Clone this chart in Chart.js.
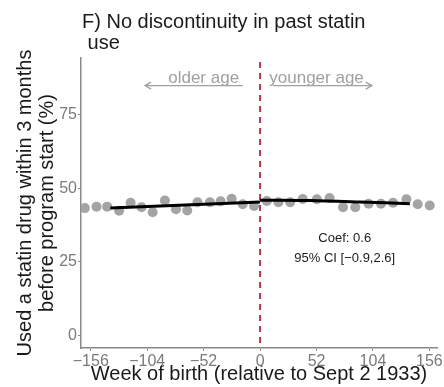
<!DOCTYPE html>
<html><head><meta charset="utf-8">
<script src="https://cdn.jsdelivr.net/npm/chart.js@4.4.1/dist/chart.umd.min.js"></script>
<style>html,body{margin:0;padding:0;background:#fff}</style>
</head><body>
<canvas id="c" width="444" height="387" style="display:block;width:444px;height:387px"></canvas>
<script>
// ---- data ----
const weeks = [-161.5,-150.7,-140.9,-129.9,-119.3,-109.2,-99.0,-87.7,-77.5,-67.1,-57.7,-46.2,-36.4,-26.2,-16.0,-5.5,
               6.2,16.9,27.7,39.3,52.3,64.0,76.4,87.7,100.0,111.4,122.5,134.8,145.2,156.3];
const shares = [43.3,43.8,43.8,42.4,45.1,43.6,41.9,45.9,42.9,42.5,45.3,45.3,45.6,46.5,44.6,44.0,
                45.7,45.3,45.3,46.4,46.3,46.7,43.6,43.6,44.8,44.8,45.1,46.3,44.6,44.2];
const fitLeftWeeks = [-138, 0];
const fitLeftShares = [43.3, 45.4];
const fitRightWeeks = [0, 46, 92, 138];
const fitRightShares = [46.0, 45.9, 45.4, 44.8];
const xTickValues = [-156, -104, -52, 0, 52, 104, 156];
const yTickValues = [0, 25, 50, 75];
const titleLines = ["F) No discontinuity in past statin", " use"];
const yTitleLines = ["Used a statin drug within 3 months", "before program start (%)"];
const xTitleText = "Week of birth (relative to Sept 2 1933)";
const coefText = "Coef: 0.6";
const ciText = "95% CI [\u22120.9,2.6]";
const olderLabel = "older age";
const youngerLabel = "younger age";

const FONT = "'Liberation Sans', Arial, Helvetica, sans-serif";
const fmt = v => (v < 0 ? "\u2212" + Math.abs(v) : String(v));

const annotations = {
  id: 'annotations',
  beforeDatasetsDraw(chart) {
    const {ctx, chartArea: a, scales: {x}} = chart;
    const px = x.getPixelForValue(0);
    ctx.save();
    ctx.strokeStyle = '#b23a48';
    ctx.lineWidth = 2;
    ctx.setLineDash([6, 5]);
    ctx.beginPath();
    ctx.moveTo(px, a.top + 4);
    ctx.lineTo(px, a.bottom);
    ctx.stroke();
    ctx.restore();
  },
  afterDraw(chart) {
    const {ctx, scales: {x, y}} = chart;
    ctx.save();
    // title
    ctx.fillStyle = '#1a1a1a';
    ctx.font = "20px " + FONT;
    ctx.textAlign = 'left';
    ctx.textBaseline = 'alphabetic';
    ctx.fillText(titleLines[0], 82, 28);
    ctx.fillText(titleLines[1], 82, 49);

    // arrows with labels
    const gray = '#a0a0a0';
    ctx.strokeStyle = gray;
    ctx.fillStyle = gray;
    ctx.lineWidth = 1.3;
    ctx.font = "17px " + FONT;
    ctx.textAlign = 'center';
    const ay = y.getPixelForValue(85);
    const ty = y.getPixelForValue(86);
    const arrow = (x0, x1, dir) => {
      const p0 = x.getPixelForValue(x0), p1 = x.getPixelForValue(x1);
      ctx.beginPath(); ctx.moveTo(p0, ay); ctx.lineTo(p1, ay); ctx.stroke();
      const tip = dir < 0 ? p0 : p1;
      ctx.beginPath();
      ctx.moveTo(tip - dir * 6, ay - 3.5); ctx.lineTo(tip, ay); ctx.lineTo(tip - dir * 6, ay + 3.5);
      ctx.stroke();
    };
    arrow(-106, -16, -1);
    arrow(12, 103, 1);
    ctx.fillText(olderLabel, x.getPixelForValue(-52), ty);
    ctx.fillText(youngerLabel, x.getPixelForValue(52), ty);

    // coefficient annotation
    ctx.fillStyle = '#1a1a1a';
    ctx.font = "13px " + FONT;
    ctx.fillText(coefText, x.getPixelForValue(78), y.getPixelForValue(31.7));
    ctx.fillText(ciText, x.getPixelForValue(78), y.getPixelForValue(24.9));
    ctx.restore();
  }
};

const axisColor = '#8a8a8a';
const tickColor = '#7a7a7a';

new Chart(document.getElementById('c'), {
  type: 'scatter',
  data: {
    datasets: [
      { type: 'line', data: fitLeftWeeks.map((w, i) => ({x: w, y: fitLeftShares[i]})),
        borderColor: '#000', borderWidth: 3, pointRadius: 0, showLine: true, fill: false, order: 0 },
      { type: 'line', data: fitRightWeeks.map((w, i) => ({x: w, y: fitRightShares[i]})),
        borderColor: '#000', borderWidth: 3, pointRadius: 0, showLine: true, fill: false, tension: 0.3, order: 0 },
      { data: weeks.map((w, i) => ({x: w, y: shares[i]})),
        backgroundColor: '#a4a4a4', borderWidth: 0, pointRadius: 5, order: 1 }
    ]
  },
  options: {
    responsive: false,
    animation: false,
    devicePixelRatio: 1,
    layout: { padding: { top: 58, right: 7, left: 0, bottom: 0 } },
    plugins: { legend: { display: false }, tooltip: { enabled: false }, title: { display: false } },
    scales: {
      x: {
        type: 'linear', min: -165, max: 163,
        afterBuildTicks: s => { s.ticks = xTickValues.map(v => ({value: v})); },
        afterFit: s => { s.height = 39; },
        ticks: { callback: v => fmt(v), color: tickColor, font: { family: FONT, size: 16 }, padding: 1,
                 maxRotation: 0, autoSkip: false },
        grid: { display: true, drawOnChartArea: false, drawTicks: true, tickLength: 3, color: axisColor },
        border: { display: true, color: axisColor, width: 1.5 },
        title: { display: true, text: xTitleText, color: '#1a1a1a', font: { family: FONT, size: 20 },
                 padding: { top: 0, bottom: 1 } }
      },
      y: {
        type: 'linear', min: -4.33, max: 94.4,
        afterBuildTicks: s => { s.ticks = yTickValues.map(v => ({value: v})); },
        afterFit: s => { s.width = 81; },
        ticks: { callback: v => fmt(v), color: tickColor, font: { family: FONT, size: 16 }, padding: 1 },
        grid: { display: true, drawOnChartArea: false, drawTicks: true, tickLength: 3, color: axisColor },
        border: { display: true, color: axisColor, width: 1.5 },
        title: { display: true, text: yTitleLines, color: '#1a1a1a',
                 font: { family: FONT, size: 20, lineHeight: 1.1 }, padding: { top: 14, bottom: 0 } }
      }
    }
  },
  plugins: [annotations]
});
</script>
</body></html>
